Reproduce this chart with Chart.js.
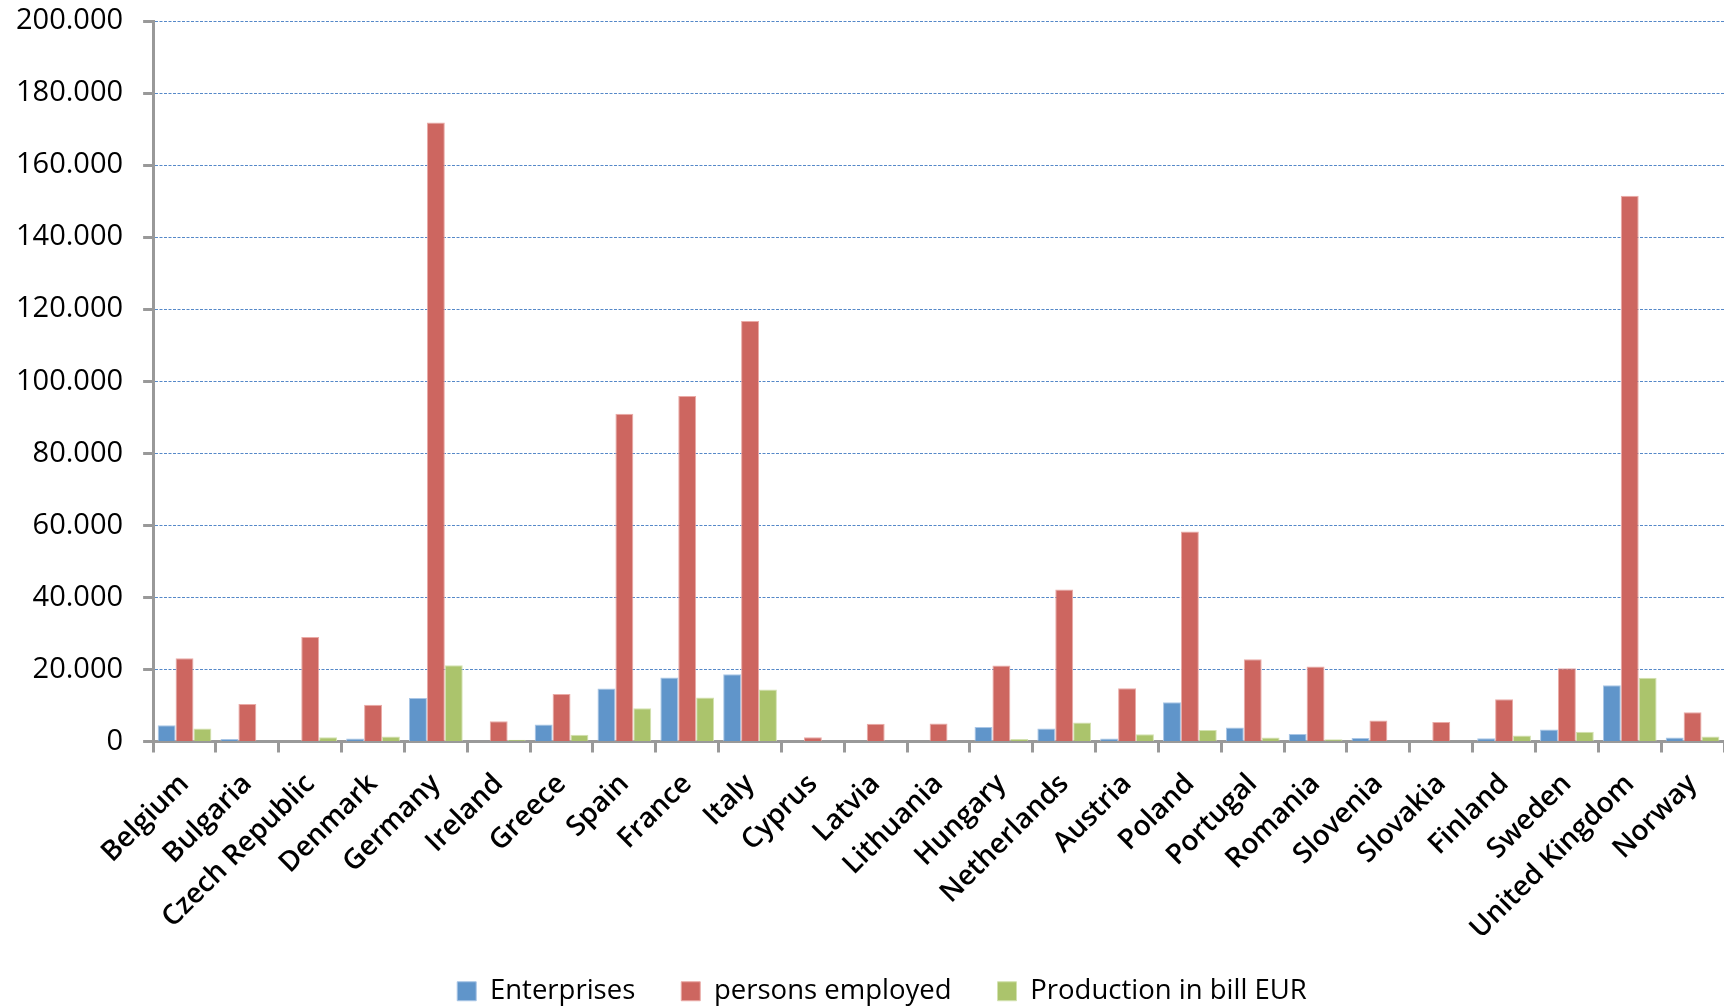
<!DOCTYPE html>
<html>
<head>
<meta charset="utf-8">
<script src="https://cdn.jsdelivr.net/npm/chart.js@4/dist/chart.umd.min.js"></script>
<style>
  html, body { margin: 0; padding: 0; background: #ffffff; }
  #wrap { width: 1724px; height: 1007px; position: relative; }
</style>
</head>
<body>
<div id="wrap"><canvas id="chart"></canvas></div>
<script>
  // Categories (countries) along the x axis
  const countries = [
    'Belgium', 'Bulgaria', 'Czech Republic', 'Denmark', 'Germany', 'Ireland',
    'Greece', 'Spain', 'France', 'Italy', 'Cyprus', 'Latvia', 'Lithuania',
    'Hungary', 'Netherlands', 'Austria', 'Poland', 'Portugal', 'Romania',
    'Slovenia', 'Slovakia', 'Finland', 'Sweden', 'United Kingdom', 'Norway'
  ];

  // Series values
  const enterprises = [
    4500, 700, 0, 800, 12100, 0,
    4700, 14700, 17800, 18700, 0, 0, 0,
    4000, 3600, 800, 10900, 3900, 2100,
    1000, 0, 900, 3300, 15600, 1100
  ];
  const personsEmployed = [
    23100, 10400, 29000, 10200, 171800, 5600,
    13200, 91000, 95900, 116700, 1200, 4900, 5000,
    21100, 42200, 14800, 58300, 22800, 20800,
    5800, 5400, 11700, 20300, 151500, 8100
  ];
  const production = [
    3600, 0, 1200, 1400, 21200, 500,
    1900, 9200, 12200, 14400, 0, 0, 0,
    700, 5300, 2000, 3200, 1100, 600,
    0, 0, 1700, 2700, 17700, 1400
  ];

  const seriesNames = ['Enterprises', 'persons employed', 'Production in bill EUR'];
  const seriesColors = ['#6095ca', '#cd6660', '#abc46c'];
  const seriesEdges = ['#a9c6e6', '#eaaaa6', '#d3e2b0'];

  // y axis: 0 .. 200.000 every 20.000
  const yMin = 0;
  const yMax = 200000;
  const yStep = 20000;

  function formatThousands(v) {
    if (v === 0) return '0';
    const s = String(Math.round(v));
    return s.replace(/\B(?=(\d{3})+(?!\d))/g, '.');
  }

  const seriesData = [enterprises, personsEmployed, production];
  const datasets = seriesData.map((values, i) => ({
    label: seriesNames[i],
    data: values,
    backgroundColor: seriesColors[i],
    borderColor: seriesEdges[i],
    borderWidth: 1,
    categoryPercentage: 0.855,
    barPercentage: 1.0
  }));

  // Excel places the legend a little right of the page centre,
  // and the legend padding would otherwise push it too low
  const legendShift = {
    id: 'legendShift',
    afterLayout: function (chart) {
      if (!chart.legend) return;
      chart.legend.left += 44;
      chart.legend.top -= 10;
    }
  };

  const ctx = document.getElementById('chart');
  new Chart(ctx, {
    type: 'bar',
    data: { labels: countries, datasets: datasets },
    plugins: [legendShift],
    options: {
      responsive: true,
      maintainAspectRatio: false,
      animation: false,
      layout: {
        padding: { left: -4, right: 0, top: 0, bottom: -18 }
      },
      plugins: {
        title: { display: false },
        tooltip: { enabled: false },
        legend: {
          display: true,
          position: 'bottom',
          align: 'center',
          labels: {
            boxWidth: 19,
            boxHeight: 19,
            padding: 46,
            color: '#000000',
            font: { family: 'Open Sans', size: 27.5 }
          }
        }
      },
      scales: {
        x: {
          offset: true,
          afterFit: function (scale) {
            scale.height = 200;
            scale.paddingRight = 0;
          },
          grid: {
            display: true,
            offset: true,
            drawOnChartArea: false,
            drawTicks: true,
            tickLength: 11,
            tickColor: '#999999',
            tickWidth: 3
          },
          border: { display: true, color: '#999999', width: 3 },
          ticks: {
            autoSkip: false,
            minRotation: 45,
            maxRotation: 45,
            padding: 15,
            color: '#000000',
            font: { family: 'Open Sans', size: 28, weight: '600' }
          }
        },
        y: {
          min: yMin,
          max: yMax,
          afterFit: function (scale) {
            scale.paddingTop = 21;
            scale.paddingBottom = 0;
          },
          grid: {
            display: true,
            color: '#5588c8',
            lineWidth: 1,
            drawTicks: true,
            tickLength: 10,
            tickColor: '#999999',
            tickWidth: 3,
            tickBorderDash: []
          },
          border: { display: true, color: '#999999', width: 3, dash: [3, 1.5] },
          ticks: {
            stepSize: yStep,
            padding: 20,
            color: '#000000',
            font: { family: 'Open Sans', size: 29 },
            callback: function (value) { return formatThousands(value); }
          }
        }
      }
    }
  });
</script>
</body>
</html>
